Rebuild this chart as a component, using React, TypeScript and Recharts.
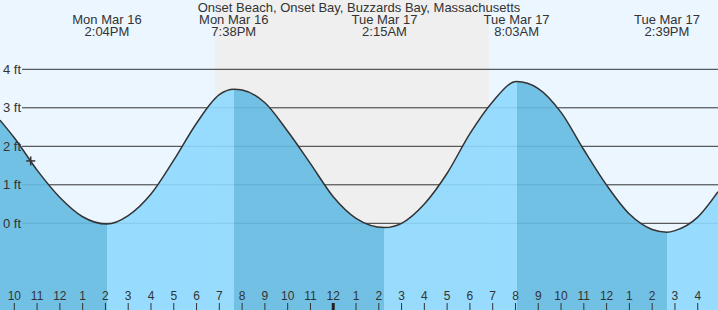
import React from 'react';
import { ComposedChart, Area, XAxis, YAxis, CartesianGrid, ReferenceArea, Scatter } from 'recharts';

const title = 'Onset Beach, Onset Bay, Buzzards Bay, Massachusetts';

// hours after Mon Mar 16 10:00 AM
const times = [-0.628, 0, 1, 2, 3, 4.067, 5, 6, 7, 8, 9, 9.633, 10, 11, 12, 13, 14, 15, 16.25, 17, 18, 19, 20, 21, 22.05, 23, 24, 25, 26, 27, 28, 28.65, 29, 30, 30.89];
const levels = [2.68, 2.22, 1.38, 0.67, 0.17, -0.02, 0.2, 0.76, 1.64, 2.6, 3.34, 3.48, 3.46, 3.13, 2.39, 1.55, 0.69, 0.13, -0.11, 0.0, 0.5, 1.3, 2.33, 3.16, 3.68, 3.5, 2.88, 1.91, 0.99, 0.24, -0.16, -0.23, -0.19, 0.16, 0.82];

const extremeTimes = [4.067, 9.633, 16.25, 22.05, 28.65];
const extremeDays = ['Mon Mar 16', 'Mon Mar 16', 'Tue Mar 17', 'Tue Mar 17', 'Tue Mar 17'];
const extremeClock = ['2:04PM', '7:38PM', '2:15AM', '8:03AM', '2:39PM'];

const hourTicks = [0, 1, 2, 3, 4, 5, 6, 7, 8, 9, 10, 11, 12, 13, 14, 15, 16, 17, 18, 19, 20, 21, 22, 23, 24, 25, 26, 27, 28, 29, 30];
const hourLabels = ['10', '11', '12', '1', '2', '3', '4', '5', '6', '7', '8', '9', '10', '11', '12', '1', '2', '3', '4', '5', '6', '7', '8', '9', '10', '11', '12', '1', '2', '3', '4'];
const midnightTick = 14;

const levelTicks = [0, 1, 2, 3, 4];
const nightBand = [8.81, 20.83];
const nowMarker = [{ t: 0.72, v: 1.62 }];
const yDomain = [-2.252, 5.8];

const W = 718;
const H = 310;
const FONT = '"Liberation Sans", Arial, sans-serif';
const DARK = '#64BBE2';
const LIGHT = '#8ED9FE';

const tideData = times.map((t, i) => ({ t, v: levels[i] }));
const extremeData = extremeTimes.map((t, i) => ({ t, v: yDomain[1], day: extremeDays[i], clock: extremeClock[i] }));

const t0 = times[0];
const tN = times[times.length - 1];
const bounds = [0, ...extremeTimes.map((t) => (t - t0) / (tN - t0)), 1];

const HourTick = (props: any) => {
  const { x, payload } = props;
  const i = hourTicks.indexOf(payload.value);
  const mid = payload.value === midnightTick;
  return (
    <g>
      <text x={x} y={H - 10} textAnchor="middle" fontSize={12} fill="#333" fontFamily={FONT}>
        {hourLabels[i]}
      </text>
      <line x1={x} x2={x} y1={H - 7} y2={H} stroke={mid ? '#222' : '#333'} strokeWidth={mid ? 3 : 1} />
    </g>
  );
};

const LevelTick = (props: any) => {
  const { y, payload } = props;
  return (
    <text x={3} y={y + 4.7} fontSize={13} fill="#333" fontFamily={FONT} textAnchor="start">
      {payload.value} ft
    </text>
  );
};

const ExtremeLabel = (props: any) => {
  const { cx, payload } = props;
  return (
    <g>
      <text x={cx} y={24} textAnchor="middle" fontSize={13} fill="#333" fontFamily={FONT}>
        {payload.day}
      </text>
      <text x={cx} y={36} textAnchor="middle" fontSize={13} fill="#333" fontFamily={FONT}>
        {payload.clock}
      </text>
    </g>
  );
};

const PlusMark = (props: any) => {
  const { cx, cy } = props;
  return (
    <g stroke="#333" strokeWidth={1.5}>
      <line x1={cx - 4.5} x2={cx + 4.5} y1={cy} y2={cy} />
      <line x1={cx} x2={cx} y1={cy - 4.5} y2={cy + 4.5} />
    </g>
  );
};

export default function App() {
  return (
    <div style={{ position: 'fixed', left: 0, top: 0, width: W, height: H, background: '#ECF6FF', overflow: 'hidden', fontFamily: FONT }}>
      <ComposedChart width={W} height={H} data={tideData} margin={{ top: 0, right: 0, bottom: 0, left: 0 }} style={{ position: 'absolute', left: 0, top: 0 }}>
        <defs>
          <linearGradient id="tideFill" x1="0" y1="0" x2="1" y2="0">
            {bounds.slice(0, -1).map((b, i) => [
              <stop key={`a${i}`} offset={b} stopColor={i % 2 === 0 ? DARK : LIGHT} />,
              <stop key={`b${i}`} offset={bounds[i + 1]} stopColor={i % 2 === 0 ? DARK : LIGHT} />,
            ])}
          </linearGradient>
        </defs>
        <XAxis
          type="number"
          dataKey="t"
          domain={[t0, tN]}
          allowDataOverflow
          ticks={hourTicks}
          interval={0}
          mirror
          height={30}
          tickLine={false}
          axisLine={false}
          tick={<HourTick />}
        />
        <YAxis
          type="number"
          domain={yDomain}
          allowDataOverflow
          ticks={levelTicks}
          interval={0}
          mirror
          width={30}
          tickLine={false}
          axisLine={false}
          tick={<LevelTick />}
        />
        <ReferenceArea x1={nightBand[0]} x2={nightBand[1]} y1={yDomain[0]} y2={yDomain[1]} fill="#EFEFEF" fillOpacity={1} stroke="none" ifOverflow="hidden" zIndex={-150} />
        <CartesianGrid vertical={false} horizontal stroke="#333" strokeWidth={1} x={22} width={W - 22} horizontalValues={levelTicks} />
        <Area
          type="monotone"
          dataKey="v"
          stroke="#333"
          strokeWidth={1.5}
          fill="url(#tideFill)"
          fillOpacity={0.9}
          baseValue={yDomain[0]}
          dot={false}
          activeDot={false}
          isAnimationActive={false}
        />
        <Scatter data={nowMarker} dataKey="v" shape={<PlusMark />} isAnimationActive={false} />
        <Scatter data={extremeData} dataKey="v" shape={<ExtremeLabel />} isAnimationActive={false} />
      </ComposedChart>
      <div
        style={{
          position: 'absolute',
          left: 0,
          top: 0.5,
          width: W,
          textAlign: 'center',
          fontSize: 13,
          lineHeight: '13px',
          color: '#333',
          pointerEvents: 'none',
        }}
      >
        {title}
      </div>
    </div>
  );
}
